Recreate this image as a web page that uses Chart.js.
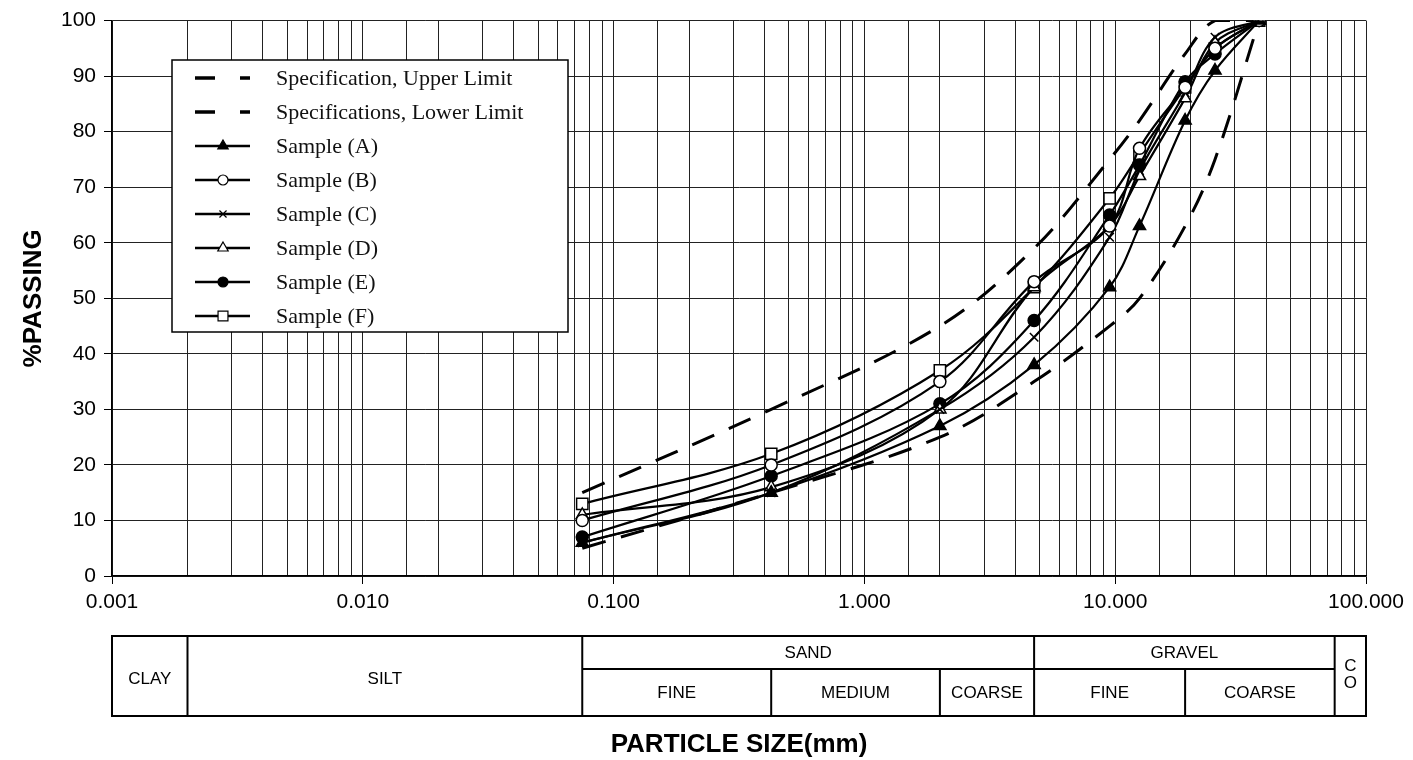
<!DOCTYPE html>
<html>
<head>
<meta charset="utf-8">
<script src="https://cdn.jsdelivr.net/npm/chart.js@4.4.1/dist/chart.umd.min.js"></script>
<style>
  html, body { margin: 0; padding: 0; background: #fff; }
  #wrap { width: 1413px; height: 760px; }
</style>
</head>
<body>
<div id="wrap"><canvas id="chart" width="1413" height="760"></canvas></div>
<script>
// ── Data ────────────────────────────────────────────────
// sieve sizes in mm
const sizes      = [0.075, 0.425, 2.0, 4.75, 9.5, 12.5, 19.0, 25.0, 37.5];
const upperLimit = [15, 30, 45, 59, 75, 82, 94, 100, 100];
const lowerLimit = [5, 15, 25, 35, 45, 50, 63, 75, 100];
const sampleA    = [6, 15, 27, 38, 52, 63, 82, 91, 100];
const sampleB    = [10, 20, 35, 53, 63, 77, 88, 95, 100];
const sampleC    = [6, 15, 30, 43, 61, 73, 87, 97, 100];
const sampleD    = [11, 16, 30, 52, 63, 72, 86, 96, 100];
const sampleE    = [7, 18, 31, 46, 65, 74, 89, 94, 100];
const sampleF    = [13, 22, 37, 52, 68, 76, 88, 95, 100];

// soil classification bands (mm) for the strip under the axis
const mainBands = ["CLAY", "SILT", "SAND", "GRAVEL", "C\nO"];
const mainEdges = [0.001, 0.002, 0.075, 4.75, 75, 100];
const subBands  = ["FINE", "MEDIUM", "COARSE", "FINE", "COARSE"];
const subEdges  = [0.075, 0.425, 2.0, 4.75, 19.0, 75];

const SANS  = "'Liberation Sans', Arial, sans-serif";
const SERIF = "'Liberation Serif', 'Times New Roman', serif";

const pts = vals => sizes.map((s, i) => ({ x: s, y: vals[i] }));
const isMajor = v => { const l = Math.log10(v); return Math.abs(l - Math.round(l)) < 1e-6; };

function specSet(label, vals) {
  return {
    label, data: pts(vals),
    borderColor: "#000", borderWidth: 3, borderDash: [24, 16],
    pointRadius: 0, tension: 0.35, fill: false,
  };
}
function sampleSet(label, vals, style, filled, radius) {
  return {
    label, data: pts(vals),
    borderColor: "#000", borderWidth: 2.2, tension: 0.35, fill: false,
    pointStyle: style, pointRadius: radius, pointHoverRadius: radius,
    pointBackgroundColor: filled ? "#000" : "#fff",
    pointBorderColor: "#000", pointBorderWidth: 1.5,
  };
}

const datasets = [
  specSet("Specification, Upper Limit", upperLimit),
  specSet("Specifications, Lower Limit", lowerLimit),
  sampleSet("Sample (A)", sampleA, "triangle", true, 7),
  sampleSet("Sample (B)", sampleB, "circle", false, 6),
  sampleSet("Sample (C)", sampleC, "crossRot", false, 6),
  sampleSet("Sample (D)", sampleD, "triangle", false, 7),
  sampleSet("Sample (E)", sampleE, "circle", true, 6),
  sampleSet("Sample (F)", sampleF, "rect", false, 8),
];

// ── Legend box inside the plot ──────────────────────────
const boxLegend = {
  id: "boxLegend",
  afterDraw(chart) {
    const ctx = chart.ctx;
    const bx = 172, by = 60, bw = 396, bh = 272, rowH = 34;
    ctx.save();
    ctx.fillStyle = "#fff";
    ctx.fillRect(bx, by, bw, bh);
    ctx.strokeStyle = "#000";
    ctx.lineWidth = 1.5;
    ctx.strokeRect(bx, by, bw, bh);
    chart.data.datasets.forEach((ds, i) => {
      const y = by + 18 + i * rowH;
      ctx.strokeStyle = "#000";
      ctx.lineWidth = ds.borderDash ? 3.5 : 2.5;
      ctx.setLineDash(ds.borderDash ? [20, 25] : []);
      ctx.beginPath();
      ctx.moveTo(195, y);
      ctx.lineTo(250, y);
      ctx.stroke();
      ctx.setLineDash([]);
      if (ds.pointStyle) {
        ctx.fillStyle = ds.pointBackgroundColor;
        ctx.strokeStyle = "#000";
        ctx.lineWidth = 1.2;
        Chart.helpers.drawPoint(ctx, {
          pointStyle: ds.pointStyle, rotation: 0,
          radius: ds.pointRadius - 1, borderWidth: 1.2,
        }, 223, y);
      }
      ctx.fillStyle = "#111";
      ctx.font = "22px " + SERIF;
      ctx.textBaseline = "middle";
      ctx.textAlign = "left";
      ctx.fillText(ds.label, 276, y + 1);
    });
    ctx.restore();
  },
};

// ── Soil classification strip ───────────────────────────
const soilStrip = {
  id: "soilStrip",
  afterDraw(chart) {
    const ctx = chart.ctx, xs = chart.scales.x;
    const top = 636, mid = 669, bot = 716;
    const px = v => xs.getPixelForValue(v);
    ctx.save();
    ctx.strokeStyle = "#000";
    ctx.lineWidth = 2;
    ctx.strokeRect(px(mainEdges[0]), top, px(mainEdges[mainEdges.length - 1]) - px(mainEdges[0]), bot - top);
    ctx.beginPath();
    mainEdges.slice(1, -1).forEach(e => { ctx.moveTo(px(e), top); ctx.lineTo(px(e), bot); });
    subEdges.slice(1, -1).forEach(e => { ctx.moveTo(px(e), mid); ctx.lineTo(px(e), bot); });
    ctx.moveTo(px(0.075), mid); ctx.lineTo(px(75), mid);
    ctx.stroke();

    ctx.fillStyle = "#000";
    ctx.font = "17px " + SANS;
    ctx.textAlign = "center";
    ctx.textBaseline = "middle";
    mainBands.forEach((lab, i) => {
      const cx = (px(mainEdges[i]) + px(mainEdges[i + 1])) / 2;
      if (lab === "SAND" || lab === "GRAVEL") {
        ctx.fillText(lab, cx, (top + mid) / 2 + 1);
      } else if (lab.includes("\n")) {
        const parts = lab.split("\n");
        ctx.fillText(parts[0], cx, top + 30);
        ctx.fillText(parts[1], cx, top + 47);
      } else {
        ctx.fillText(lab, cx, (top + bot) / 2 + 3);
      }
    });
    subBands.forEach((lab, i) => {
      const cx = (px(subEdges[i]) + px(subEdges[i + 1])) / 2;
      ctx.fillText(lab, cx, (mid + bot) / 2 + 1);
    });
    ctx.restore();
  },
};

new Chart(document.getElementById("chart"), {
  type: "line",
  data: { datasets },
  options: {
    responsive: false,
    animation: false,
    layout: { padding: { left: 18, top: 18, right: 47, bottom: 0 } },
    plugins: { legend: { display: false }, tooltip: { enabled: false } },
    scales: {
      x: {
        type: "logarithmic", min: 0.001, max: 100,
        border: { display: true, color: "#000", width: 1.5 },
        grid: {
          color: "#222", lineWidth: 1, tickLength: 8,
          tickColor: c => (c.tick && isMajor(c.tick.value)) ? "#000" : "rgba(0,0,0,0)",
        },
        ticks: {
          autoSkip: false, maxRotation: 0, minRotation: 0, padding: 6,
          color: "#000", font: { family: SANS, size: 21 },
          callback: v => isMajor(v) ? Number(v).toFixed(3) : "",
        },
        title: {
          display: true, text: "PARTICLE SIZE(mm)", color: "#000",
          font: { family: SANS, size: 26, weight: "bold" },
          padding: { top: 0, bottom: 0 },
        },
        afterFit: s => { s.height = 184; },
      },
      y: {
        min: 0, max: 100,
        border: { display: true, color: "#000", width: 1.5 },
        grid: { color: "#222", lineWidth: 1, tickLength: 8, tickColor: "#000" },
        ticks: {
          stepSize: 10, padding: 8, color: "#000",
          font: { family: SANS, size: 21 },
        },
        title: {
          display: true, text: "%PASSING", color: "#000",
          font: { family: SANS, size: 26, weight: "bold" },
          padding: 0,
        },
        afterFit: s => { s.width = 94; },
      },
    },
  },
  plugins: [boxLegend, soilStrip],
});
</script>
</body>
</html>
